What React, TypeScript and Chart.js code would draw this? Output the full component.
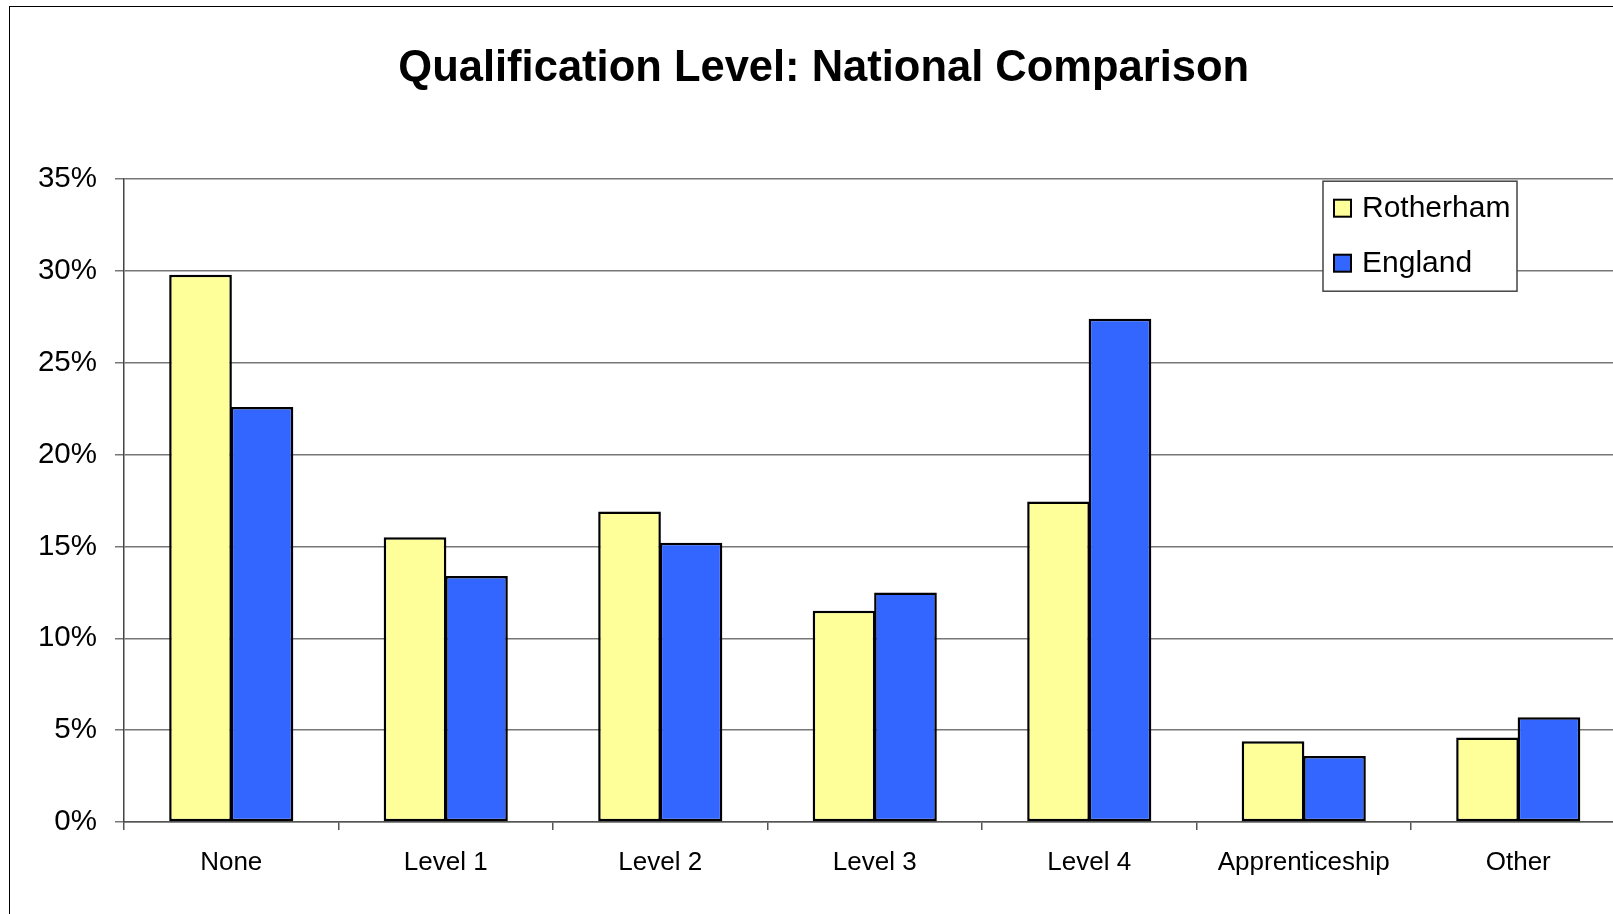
import React, { useEffect, useRef } from "react";
import { Chart, registerables } from "chart.js";

Chart.register(...registerables);

const categories = ["None", "Level 1", "Level 2", "Level 3", "Level 4", "Apprenticeship", "Other"];
const rotherham = [29.8, 15.5, 16.9, 11.5, 17.45, 4.4, 4.6];
const england = [22.6, 13.4, 15.2, 12.5, 27.4, 3.6, 5.7];
const seriesNames = ["Rotherham", "England"];
const seriesColors = ["#FFFF99", "#3366FF"];
const yTicks = [0, 5, 10, 15, 20, 25, 30, 35];

const FONT = "'Liberation Sans', Arial, Helvetica, sans-serif";

const legendPlugin = {
  id: "boxLegend",
  afterDraw(chart: any) {
    const { ctx, chartArea } = chart;
    const x0 = chartArea.left + 1199;
    const y0 = chartArea.top + 2;
    const w = 194;
    const h = 110;
    ctx.save();
    ctx.fillStyle = "#ffffff";
    ctx.fillRect(x0, y0, w, h);
    ctx.strokeStyle = "#444444";
    ctx.lineWidth = 1.5;
    ctx.strokeRect(x0, y0, w, h);
    ctx.font = `30px ${FONT}`;
    ctx.textBaseline = "middle";
    ctx.textAlign = "left";
    chart.data.datasets.forEach((ds: any, i: number) => {
      const cy = y0 + 27 + i * 55;
      ctx.fillStyle = ds.backgroundColor;
      ctx.fillRect(x0 + 11, cy - 8.5, 17, 17);
      ctx.strokeStyle = "#000000";
      ctx.lineWidth = 2;
      ctx.strokeRect(x0 + 11, cy - 8.5, 17, 17);
      ctx.fillStyle = "#000000";
      ctx.fillText(ds.label, x0 + 39, cy + 1);
    });
    ctx.restore();
  },
};

export default function App() {
  const canvasRef = useRef<HTMLCanvasElement | null>(null);

  useEffect(() => {
    const canvas = canvasRef.current;
    if (!canvas) return;
    const chart = new Chart(canvas, {
      type: "bar",
      data: {
        labels: categories,
        datasets: [
          {
            label: seriesNames[0],
            data: rotherham,
            backgroundColor: seriesColors[0],
            borderColor: "#000000",
            borderWidth: 2.5,
            borderSkipped: false,
          },
          {
            label: seriesNames[1],
            data: england,
            backgroundColor: seriesColors[1],
            borderColor: "#000000",
            borderWidth: 2.5,
            borderSkipped: false,
          },
        ],
      },
      options: {
        responsive: false,
        animation: false,
        devicePixelRatio: 1,
        layout: { padding: { left: 22, right: 24.5, top: 0, bottom: 0 } },
        datasets: {
          bar: { categoryPercentage: 0.573, barPercentage: 1.02 },
        },
        plugins: {
          legend: { display: false },
          tooltip: { enabled: false },
          title: {
            display: true,
            text: "Qualification Level: National Comparison",
            color: "#000000",
            font: { family: FONT, size: 43.5, weight: "bold" },
            padding: { top: 43, bottom: 84 },
          },
        },
        scales: {
          x: {
            type: "category",
            afterFit(scale: any) {
              scale.height = 92;
            },
            grid: {
              offset: true,
              drawOnChartArea: false,
              drawTicks: true,
              tickLength: 8,
              color: "#555555",
              lineWidth: 1.5,
            },
            border: { display: true, color: "#555555", width: 1.5 },
            ticks: {
              color: "#000000",
              font: { family: FONT, size: 26 },
              padding: 17,
              maxRotation: 0,
              autoSkip: false,
            },
          },
          y: {
            min: 0,
            max: 35,
            afterFit(scale: any) {
              scale.width = 102;
            },
            afterBuildTicks(scale: any) {
              scale.ticks = yTicks.map((v) => ({ value: v }));
            },
            grid: {
              drawOnChartArea: true,
              drawTicks: true,
              tickLength: 9,
              color: "#777777",
              lineWidth: 1.5,
            },
            border: { display: true, color: "#444444", width: 1.5 },
            ticks: {
              color: "#000000",
              font: { family: FONT, size: 29.5 },
              padding: 18,
              callback: (v: any) => `${v}%`,
            },
          },
        },
      },
      plugins: [legendPlugin],
    });
    return () => chart.destroy();
  }, []);

  return (
    <div
      style={{
        position: "fixed",
        left: 0,
        top: 0,
        width: 1613,
        height: 914,
        overflow: "hidden",
        background: "#ffffff",
      }}
    >
      <div
        style={{
          position: "absolute",
          left: 9,
          top: 6,
          width: 2000,
          height: 2000,
          borderLeft: "1.5px solid #000",
          borderTop: "1.5px solid #000",
        }}
      />
      <canvas
        ref={canvasRef}
        width={1650}
        height={914}
        style={{ position: "absolute", left: 0, top: 0, width: 1650, height: 914 }}
      />
    </div>
  );
}
